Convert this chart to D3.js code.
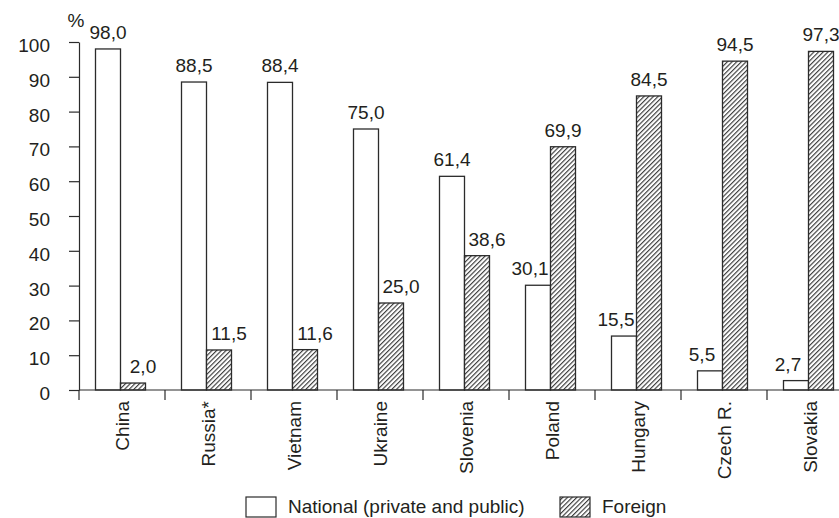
<!DOCTYPE html>
<html lang="en">
<head>
<meta charset="UTF-8">
<title>National vs foreign ownership</title>
<script src="https://cdnjs.cloudflare.com/ajax/libs/d3/7.8.5/d3.min.js"></script>
<style>
    body { margin: 0; background: #fff; }
    svg { display: block; font-family: "Liberation Sans", Arial, sans-serif; }
    text { fill: #231f20; font-size: 19px; }
</style>
</head>
<body>
<div id="chart"></div>
<script>
    const countries = ["China", "Russia*", "Vietnam", "Ukraine", "Slovenia", "Poland", "Hungary", "Czech R.", "Slovakia"];
    const nationalShare = [98.0, 88.5, 88.4, 75.0, 61.4, 30.1, 15.5, 5.5, 2.7];
    const foreignShare = [2.0, 11.5, 11.6, 25.0, 38.6, 69.9, 84.5, 94.5, 97.3];
    const yTicks = [0, 10, 20, 30, 40, 50, 60, 70, 80, 90, 100];
    const seriesNames = ["National (private and public)", "Foreign"];

    const W = 839, H = 518;
    const ink = "#2b2b2b";

    const rows = countries.map((c, i) => ({country: c, national: nationalShare[i], foreign: foreignShare[i]}));

    const fmt = d3.formatLocale({decimal: ",", thousands: ".", grouping: [3], currency: ["", ""]}).format(".1f");

    const svg = d3.select("#chart").append("svg")
        .attr("width", W)
        .attr("height", H);

    const defs = svg.append("defs");
    const pat = defs.append("pattern")
        .attr("id", "hatch")
        .attr("patternUnits", "userSpaceOnUse")
        .attr("width", 3.3)
        .attr("height", 10)
        .attr("patternTransform", "rotate(45)");
    pat.append("rect").attr("width", 3.3).attr("height", 10).attr("fill", "#fff");
    pat.append("line")
        .attr("x1", 0.6).attr("y1", 0).attr("x2", 0.6).attr("y2", 10)
        .attr("stroke", "#2a2a2a").attr("stroke-width", 1.05);

    const x = d3.scaleBand()
        .domain(countries)
        .range([79, 79 + 86 * countries.length]);

    const x1 = d3.scaleBand()
        .domain(["national", "foreign"])
        .range([16.5, 66.5]);

    const y = d3.scaleLinear()
        .domain([0, 100])
        .range([390, 42]);

    const pairs = d => ["national", "foreign"].map(k => ({
        key: k,
        value: d[k],
        other: d[k === "national" ? "foreign" : "national"]
    }));

    // bars
    const groups = svg.append("g").selectAll("g")
        .data(rows)
        .enter().append("g")
        .attr("transform", d => `translate(${x(d.country)},0)`);

    groups.selectAll("rect")
        .data(pairs)
        .enter().append("rect")
        .attr("x", d => x1(d.key))
        .attr("width", x1.bandwidth())
        .attr("y", d => y(d.value))
        .attr("height", d => y(0) - y(d.value))
        .attr("fill", d => d.key === "foreign" ? "url(#hatch)" : "#fff")
        .attr("stroke", ink)
        .attr("stroke-width", 1.3);

    // value labels, nudged away from the taller neighbour
    groups.selectAll("text.val")
        .data(pairs)
        .enter().append("text")
        .attr("class", "val")
        .attr("text-anchor", "middle")
        .attr("x", d => {
            let shift = 0;
            if (d.value < d.other) shift = d.key === "foreign" ? 10 : -8;
            return x1(d.key) + x1.bandwidth() / 2 + shift;
        })
        .attr("y", d => y(d.value) - 10)
        .text(d => fmt(d.value));

    // y axis
    const yAxis = svg.append("g")
        .attr("transform", "translate(79,0)")
        .call(d3.axisLeft(y).tickValues(yTicks).tickSize(10).tickSizeOuter(0).tickPadding(19));
    yAxis.selectAll("path, line").attr("stroke", ink).attr("stroke-width", 1.2);
    yAxis.selectAll("text")
        .attr("fill", "#231f20")
        .attr("dy", "0.5em");

    svg.append("text")
        .attr("x", 76)
        .attr("y", 27)
        .attr("text-anchor", "middle")
        .text("%");

    // x axis
    const xAxis = svg.append("g");
    xAxis.append("line")
        .attr("x1", 79).attr("x2", x.range()[1])
        .attr("y1", y(0)).attr("y2", y(0))
        .attr("stroke", ink).attr("stroke-width", 1.2);
    xAxis.selectAll("line.tick")
        .data(countries)
        .enter().append("line")
        .attr("class", "tick")
        .attr("x1", d => x(d)).attr("x2", d => x(d))
        .attr("y1", y(0)).attr("y2", y(0) + 10)
        .attr("stroke", ink).attr("stroke-width", 1.2);
    xAxis.selectAll("text")
        .data(countries)
        .enter().append("text")
        .attr("text-anchor", "end")
        .attr("dy", "0.35em")
        .attr("transform", d => `translate(${x(d) + x.bandwidth() / 2},401) rotate(-90)`)
        .text(d => d);

    // legend
    const legend = svg.append("g");
    const legendX = [246, 560];
    legend.selectAll("rect")
        .data(seriesNames)
        .enter().append("rect")
        .attr("x", (d, i) => legendX[i])
        .attr("y", 497)
        .attr("width", 30)
        .attr("height", 20)
        .attr("fill", (d, i) => i === 1 ? "url(#hatch)" : "#fff")
        .attr("stroke", ink)
        .attr("stroke-width", 1.2);
    legend.selectAll("text")
        .data(seriesNames)
        .enter().append("text")
        .attr("x", (d, i) => legendX[i] + 42)
        .attr("y", 513)
        .text(d => d);
</script>
</body>
</html>
